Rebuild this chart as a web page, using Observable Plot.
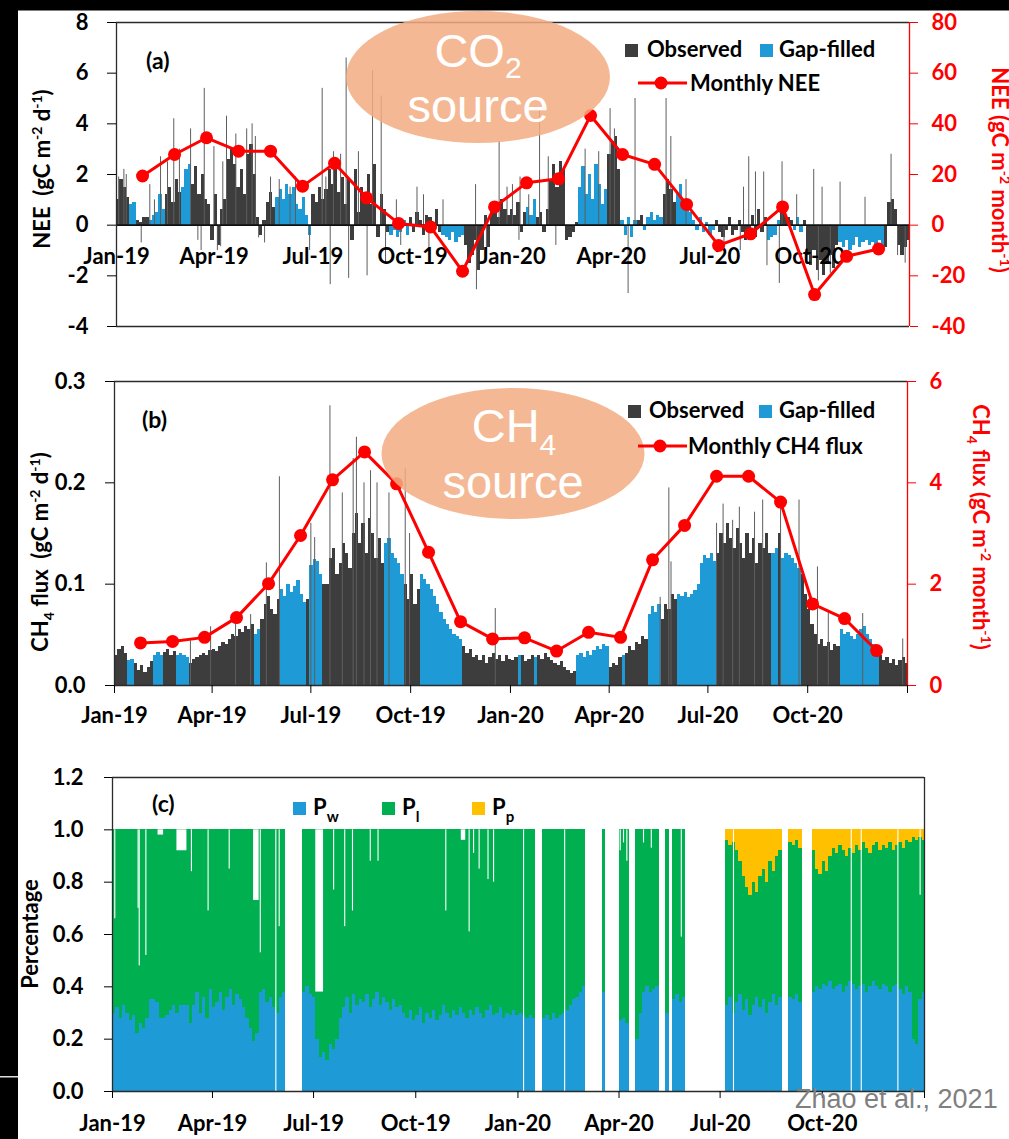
<!DOCTYPE html>
<html><head><meta charset="utf-8">
<script src="https://cdn.jsdelivr.net/npm/d3@7"></script>
<script src="https://cdn.jsdelivr.net/npm/@observablehq/plot@0.6"></script>
<style>
body{margin:0;background:#fff;}
#wrap{position:relative;width:1009px;height:1139px;overflow:hidden;background:#fff;}
</style></head><body><div id="wrap"></div>
<script>
// ---------------- DATA ----------------
const tickDates = ["2019-01-01","2019-04-01","2019-07-01","2019-10-01","2020-01-01","2020-04-01","2020-07-01","2020-10-01","2021-01-01"];
const tickLabels = ["Jan-19","Apr-19","Jul-19","Oct-19","Jan-20","Apr-20","Jul-20","Oct-20",""];
const monthLabels = ["Jan-19","Feb-19","Mar-19","Apr-19","May-19","Jun-19","Jul-19","Aug-19","Sep-19","Oct-19","Nov-19","Dec-19",
  "Jan-20","Feb-20","Mar-20","Apr-20","May-20","Jun-20","Jul-20","Aug-20","Sep-20","Oct-20","Nov-20","Dec-20"];

// daily NEE (gC m-2 d-1), 3-day bins from 1 Jan 2019
const neeBins = [1.0,1.8,1.5,1.1, 0.8,0.9, 0.2,0.1,0.3, 0.3,0.2,0.4,0.5,1.2, 0.6,
  1.2,1.5,0.9,1.8,1.3, 1.5,2.2,2.4, 1.6,2.3,1.2,2.0,1.0, 0.8,-0.6,1.2,-0.8,0.6,1.0,
  2.6,3.0,2.4, 1.5,2.2,1.2,2.8,3.2,2.0, 0.3,-0.4,0.2, 0.9,1.3,0.7,1.1,
  1.4,1.0,1.6,1.2,1.5,0.8, 0.6,1.1,0.4,-0.4, 1.2,0.9,1.5,1.0,1.4, 2.2,1.6,2.5,1.3,1.9,
  0.8,1.8,-0.6,2.2,0.5,1.5, 1.3,2.0,0.8,2.4,-0.5,1.2,0.6, -0.3,-0.4,-0.2,-0.5,-0.3,0.2,-0.4,
  0.3,-0.3,0.5,0.2,-0.4,0.4,0.3,-0.2,0.6,-0.3, -0.4,-0.5,-0.6,-0.3,-0.7,-0.5,-0.4,
  -0.8,-1.5,-1.2,-0.6,-1.8,-1.0,0.4,-0.9, 0.5,0.8,0.3,1.0,0.6,0.4,
  0.6,0.4,0.9,-0.3,0.5,0.7,0.4,1.0,0.3, 0.5,-0.3,0.6, 1.8,2.4,1.5,2.5,2.2, -0.6,-0.5,-0.3,0.1,
  1.5,2.3,1.2,2.0,1.0,2.4,1.6,0.8,1.4, 2.8,3.3,3.5,2.2, 0.2,-0.4,0.3,-0.5,0.2,
  0.2,0.4,-0.2,0.3,0.5,0.2,0.4,0.3, 1.2,1.8,1.4,0.9, 1.2,1.6,0.9,0.6,0.5,
  0.2,-0.2,0.3,-0.3,0.1,-0.4,-0.2,0.2,-0.3,-0.5,-0.2,0.3,-0.4,-0.2,0.2,-0.3,-0.6,-0.2,
  0.4,-0.5,0.6,-0.3,0.3,-0.6,-0.5,-0.4,0.2, 0.5,0.6,0.3, 0.2,-0.2,0.3,-0.3,0.2,
  -1.2,-1.6,-1.0,-1.8,-1.4,-2.0,-1.5,-1.2,-1.7,-0.8, -0.7,-0.9,-0.6,-1.0,-0.8,-0.5,-0.9,-0.7,-0.6,-0.8,
  -0.7,-0.8,-0.6,-1.0,-0.9, 0.9,1.0,0.6,-0.8,-1.2,-0.9,-0.6];
// gap-filled periods (day ranges)
const neeGapFilled = [[13,19],[30,45],[59,69],[148,180],[252,271],[300,321],[378,387],[426,453],[465,480],[486,504],[516,552],[601,611],[623,633],[666,707]];
// single-day spikes [day, value]
const neeSpikes = [[2,1.9],[6.8,2.2],[9,2.0],[22.8,-0.7],[30.7,1.6],[35,1.0],[40.6,2.7],[47,2.5],[52.8,4.2],[58,3.0],[68.3,3.8],[75,-0.6],[78,-1.0],[80.9,5.4],[89.8,3.1],[93,-1.0],[96,-0.85],
  [98,2.5],[101.4,4.3],[110,3.6],[120,3.8],[125,4.0],[128,3.5],[131,-0.5],[136.5,-0.7],[142,1.9],[150,1.8],[160,1.5],[165,1.9],[178,-1.0],[189.6,5.4],[193,1.9],[197,-2.35],[200,2.9],[206.6,2.8],
  [211.7,6.6],[214,-2.1],[223,2.9],[231,-2.0],[236,6.1],[244,5.1],[248,-1.5],[258,1.0],[262,-0.8],[277,1.5],[283,1.2],[288,-0.9],[301,1.0],[331,1.6],[331.8,-2.55],
  [341,-1.2],[352.7,3.3],[360,1.5],[365,1.6],[371,-0.6],[372,1.9],[380,1.2],[390,4.6],[398,2.7],[405,-0.8],[432,3.0],[444.5,2.9],[455,4.6],[459,3.8],[471.6,-2.7],
  [478,5.0],[506.6,5.0],[511,3.5],[525,1.8],[560,-0.9],[575,-1.0],[578,1.5],[582.8,2.7],[589,2.1],[596.6,2.1],[599.6,-1.6],[611,-2.3],
  [613.5,2.5],[627,1.2],[642.7,2.2],[647,-2.2],[650.4,1.5],[658,-1.9],[667,1.7],[690,1.1],[714,2.8],[720,-1.2],[727,-1.5]];
// monthly NEE (gC m-2 month-1)
const neeMonthly = [19.4,27.9,34.5,29.2,29.2,15.4,24.4,10.8,0.7,-0.7,-18.2,7.2,16.7,18.3,43.3,27.9,24.0,8.2,-8.0,-3.4,7.2,-27.4,-12.3,-9.4];

// daily CH4 flux (gC m-2 d-1), 3-day bins
const ch4Bins = [0.030,0.036,0.038,0.032, 0.025,0.026, 0.022,0.015,0.020,0.013,0.018,0.024, 0.030,0.033,0.030,
  0.033,0.036,0.030,0.034, 0.030,0.032,0.030,0.028,
  0.022,0.026,0.028,0.030,0.032,0.030,0.035,0.036,0.034,0.038,0.042,0.040,0.045,0.050,0.048,0.055,0.052,0.058,0.055,0.060,
  0.050,0.055, 0.065,0.080,0.088,0.075,0.070,0.085, 0.095,0.088,0.100,0.092,0.098,0.104,0.090,0.082, 0.085,
  0.118,0.124,0.122,0.110,0.100, 0.100,0.125,0.135,0.110,0.120,0.140,0.130,0.115,
  0.150,0.170,0.140,0.160,0.130,0.165,0.150,0.125,0.145,0.120, 0.140,0.145,0.130,0.125,0.120,0.110,
  0.100,0.085,0.110,0.080,0.095, 0.110,0.105,0.100,0.095,0.088,0.080,0.072, 0.065,0.060,0.055,0.050,0.048,0.045,
  0.038,0.032,0.036,0.028,0.030,0.025,0.030,0.022,0.028,0.032,0.026,0.030,0.024,0.030,0.026,
  0.025,0.028,0.030, 0.030,0.024,0.026,0.030,0.028,
  0.030,0.026,0.032,0.028,0.025,0.022,0.020,0.024,0.018,0.015,0.012,0.014,
  0.030,0.032,0.028,0.034,0.030,0.035,0.038,0.036,0.040,0.038, 0.018,0.022,0.020,0.028,0.030,
  0.032,0.038,0.035,0.042,0.040,0.048,0.045, 0.070,0.078,0.072,0.080, 0.065,0.080,0.075,0.090,0.085,
  0.090,0.088,0.092,0.087,0.090,0.094,0.100, 0.120,0.128,0.125,0.130,0.122,
  0.130,0.150,0.140,0.160,0.145,0.135,0.155,0.140,0.125,0.150,0.130,0.145,0.120,0.140,0.135,0.150,0.130,
  0.130,0.135, 0.150, 0.125,0.130,0.128,0.125,0.120,0.115,
  0.110,0.090,0.075,0.060,0.050,0.040,0.045,0.038,0.042,0.035,0.040,0.038,
  0.055,0.050,0.052,0.048,0.045,0.050,0.055,0.058,0.050,0.045,0.040,0.038,
  0.030,0.025,0.028,0.022,0.026,0.020,0.025,0.028,0.022];
const ch4GapFilled = [[12,18],[36,45],[57,69],[129,135],[153,177],[181,193],[249,267],[282,321],[372,376],[387,391],[426,456],[468,471],[492,504],[519,555],[606,612],[615,633],[669,705]];
const ch4Spikes = [[70,0.044],[88.6,0.058],[111.6,0.064],[125.5,0.07],[140,0.121],[152,0.206],[181,0.16],[184.5,0.146],[198.6,0.276],
  [210,0.19],[220,0.224],[223,0.245],[230,0.2],[236,0.212],[242,0.2],[253,0.19],[268,0.214],[272,0.15],[351,0.076],
  [503,0.087],[511,0.195],[513,0.122],[555,0.16],[561,0.179],[569.8,0.163],[576,0.176],[590,0.171],[597.5,0.183],
  [614,0.183],[631,0.183],[648,0.117],[658,0.074],[689.7,0.071],[726.6,0.046]];
// monthly CH4 flux (gC m-2 month-1)
const ch4Monthly = [0.84,0.87,0.95,1.34,2.01,2.96,4.06,4.61,3.98,2.63,1.26,0.92,0.94,0.68,1.05,0.95,2.48,3.16,4.13,4.13,3.62,1.61,1.32,0.69];

// panel c: P_w fraction per 3-day bin (null = no data)
const pwBins = [0.30,0.32,0.28,0.33,0.30,0.27,0.29,0.22,0.26,0.24,0.28,
  0.35,0.35,0.34,0.28,0.28,0.29,0.31,0.33,0.30, 0.33,0.33,0.33,
  0.26,0.33,0.38,0.30,0.36,0.28,0.39,0.32, 0.34,0.38,0.31,0.36,0.39,0.33,0.37,0.35,
  0.32,0.28,0.24,0.19,0.22, 0.38,0.39,0.34,0.36, 0.32,0.30,0.36,0.38,
  null,null,null,null,null, 0.38, 0.40,0.37,0.36,0.20, 0.13,0.15,0.12,0.18,0.16,
  0.20,0.28,0.32,0.36,0.30,0.37,0.33,0.35, 0.34,0.37,0.32,0.35,0.38,0.33,0.36,0.34,0.31,0.35,0.32,0.33,
  0.30,0.28,0.31,0.27,0.29,0.32,0.26,0.30,0.28,0.31,0.27,0.29,0.33,0.30,0.28,0.31,0.29,0.32,0.30,0.28,
  0.31,0.29,0.32,0.30,0.28,0.31,0.33,0.29,0.30,0.32,0.28,0.30,0.29,0.31,0.29,0.30,0.29,
  0.28,0.29,0.28, null,null, 0.28,0.29,0.27,0.30,0.28,0.29,0.30, 0.31,0.33,0.35,0.36,0.38,0.40,
  null,null,null,null,null, 0.38, null,null,null,null, 0.27,0.28,0.26, null,null,
  0.20,0.30,0.38,0.40,0.38,0.39,0.40, null,null, 0.30, null, 0.35,0.37,0.34,0.36,
  null,null,null,null,null,null,null,null,null,null,null,null,
  0.33,0.36,0.30,0.34,0.37,0.31,0.35,0.29,0.33,0.36,0.32,0.35,0.30,0.34,0.37,0.33,0.36,
  null,null, 0.36,0.35,0.37,0.34, null,null,null,
  0.38,0.40,0.39,0.41,0.40,0.42,0.39,0.40,0.41,0.38,0.40,0.42,0.41,0.39,0.40,0.41,0.38,0.40,0.42,0.40,
  0.39,0.41,0.40,0.38,0.40,0.41,0.39,0.37,0.40,0.38,0.20,0.18,0.35,0.38];
// panel c: P_p fraction per 3-day bin, starting at bin 184 (July 2020)
const ppFirstBin = 184;
const ppBins = [0.04,0.06,0.05,0.08,0.12,0.18,0.22,0.25,0.20,0.24,0.18,0.15,0.20,0.12,0.16,0.10,0.08,
  null,null, 0.05,0.06,0.04,0.07, null,null,null,
  0.08,0.15,0.17,0.12,0.16,0.10,0.07,0.09,0.06,0.08,0.10,0.07,0.09,0.06,0.08,0.05,0.07,0.09,0.06,0.05,
  0.08,0.06,0.07,0.05,0.08,0.06,0.05,0.07,0.04,0.05,0.03,0.04,0.03,0.04];
// days with no data at all
const missingDays = [147,370,407,559,665,674,707];
// days whose fractions do not reach 1.0: [first day, last day, top of data]
const partialDays = [[2,2,0.66],[23,23,0.70],[24,24,0.48],[30,30,0.52],[41,45,0.98],[58,66,0.92],[71,71,0.84],[86,86,0.69],
  [105,105,0.85],[127,131,0.73],[133,133,0.53],[150,150,0.63],[183,189,0.38],[199,199,0.77],[209,209,0.63],[216,216,0.69],
  [232,232,0.88],[239,239,0.88],[300,300,0.69],[314,317,0.96],[321,321,0.61],[325,325,0.91],[330,330,0.85],[338,338,0.81],
  [343,343,0.80],[457,457,0.92],[460,460,0.95],[463,463,0.88],[478,478,0.95],[485,485,0.93],[512,512,0.59],[727,727,0.75]];

// ---------------- HELPERS ----------------
const W = 1009;
const FONT = "Lato, 'Open Sans', sans-serif";
const OBS = "#3d3d3d", GAP = "#1e9ad6", RED = "#ff0000", FRAME = "#2b2b2b";
const BLUE = "#1e9ad6", GREEN = "#00b050", YELLOW = "#ffc000";
const T0 = Date.UTC(2019,0,1);
const day = d => new Date(T0 + d*864e5);
const X0 = new Date(tickDates[0]), X1 = new Date(tickDates[tickDates.length-1]);
const inR = (d, R) => R.some(([a,b]) => d >= a && d < b);
const binsOf = (vals, ranges) => vals.map((v,k) => ({a: day(k*3), b: day(Math.min(k*3+3, 731)), v, gf: inR(k*3+1.5, ranges)}));
// secondary (monthly) category axis: 24 evenly spaced categories
const monthX = (d,i) => day(24 + i*29.5);
const labelOf = new Map(tickDates.map((s,i) => [+new Date(s), tickLabels[i]]));
const style = {fontFamily: FONT, fontSize: "22px", fontWeight: "700", color: "#000", background: "transparent", overflow: "visible"};
const wrap = document.getElementById("wrap");
function place(svg, top){ svg.style.position = "absolute"; svg.style.left = "0px"; svg.style.top = top + "px"; wrap.appendChild(svg); }

// ---------------- PANEL A ----------------
const neeData = binsOf(neeBins, neeGapFilled);
const nTicks = [-4,-2,0,2,4,6,8];
place(Plot.plot({
  width: W, height: 340, marginLeft: 116, marginRight: 100, marginTop: 22, marginBottom: 14, style,
  x: {type: "utc", domain: [X0, X1], axis: null},
  y: {domain: [-4, 8]},
  marks: [
    Plot.rect(neeData, {x1: "a", x2: "b", y1: 0, y2: "v", fill: d => d.gf ? GAP : OBS, shapeRendering: "crispEdges"}),
    Plot.ruleX(neeSpikes, {x: d => day(d[0]), y1: 0, y2: d => d[1], stroke: "#5e5e5e", strokeWidth: 1}),
    Plot.ruleY([0], {stroke: "#111", strokeWidth: 1.6}),
    Plot.ruleY([8, -4], {stroke: FRAME, strokeWidth: 1.3}),
    Plot.ruleX([X0], {stroke: FRAME, strokeWidth: 1.3}),
    Plot.ruleX([X1], {stroke: RED, strokeWidth: 1.3}),
    Plot.axisY({ticks: nTicks, tickSize: 9, tickPadding: 19, label: null, color: "#000", tickFormat: d => String(d)}),
    Plot.axisY({anchor: "right", ticks: nTicks, tickSize: 8, tickPadding: 14, label: null, color: RED, tickFormat: d => String(d*10)}),
    Plot.text(tickDates.slice(0, 8), {x: d => new Date(d), y: 0, text: d => labelOf.get(+new Date(d)), lineAnchor: "top", dy: 23, fill: "#000"}),
    Plot.line(neeMonthly, {x: monthX, y: d => d/10, stroke: RED, strokeWidth: 3}),
    Plot.dot(neeMonthly, {x: monthX, y: d => d/10, r: 6.5, fill: RED, stroke: "none"})
  ]
}), 0);

// ---------------- PANEL B ----------------
const ch4Data = binsOf(ch4Bins, ch4GapFilled);
const cTicks = [0, 0.1, 0.2, 0.3];
place(Plot.plot({
  width: W, height: 380, marginLeft: 114, marginRight: 102, marginTop: 21, marginBottom: 55, style,
  x: {type: "utc", domain: [X0, X1]},
  y: {domain: [0, 0.3]},
  marks: [
    Plot.rect(ch4Data, {x1: "a", x2: "b", y1: 0, y2: "v", fill: d => d.gf ? GAP : OBS, shapeRendering: "crispEdges"}),
    Plot.ruleX(ch4Spikes, {x: d => day(d[0]), y1: 0, y2: d => d[1], stroke: "#5e5e5e", strokeWidth: 1}),
    Plot.ruleY([0, 0.3], {stroke: FRAME, strokeWidth: 1.3}),
    Plot.ruleX([X0], {stroke: FRAME, strokeWidth: 1.3}),
    Plot.ruleX([X1], {stroke: RED, strokeWidth: 1.3}),
    Plot.axisX({ticks: tickDates.map(s => new Date(s)), tickFormat: d => labelOf.get(+d) ?? "", tickSize: 8, tickPadding: 14, label: null, color: "#000"}),
    Plot.axisY({ticks: cTicks, tickSize: 9, tickPadding: 20, label: null, color: "#000", tickFormat: d3.format(".1f")}),
    Plot.axisY({anchor: "right", ticks: cTicks, tickSize: 8, tickPadding: 14, label: null, color: RED, tickFormat: d => String(Math.round(d*20))}),
    Plot.line(ch4Monthly, {x: monthX, y: d => d/20, stroke: RED, strokeWidth: 3}),
    Plot.dot(ch4Monthly, {x: monthX, y: d => d/20, r: 6.5, fill: RED, stroke: "none"})
  ]
}), 360);

// ---------------- PANEL C ----------------
const pData = [];
pwBins.forEach((pw, k) => {
  if (pw == null) return;
  const pp = k >= ppFirstBin ? (ppBins[k - ppFirstBin] ?? 0) : 0;
  pData.push({a: day(k*3), b: day(Math.min(k*3+3, 731)), pw, pp});
});
const pTicks = [0, 0.2, 0.4, 0.6, 0.8, 1.0, 1.2];
place(Plot.plot({
  width: W, height: 379, marginLeft: 112, marginRight: 85, marginTop: 17, marginBottom: 48, style,
  x: {type: "utc", domain: [X0, X1]},
  y: {domain: [0, 1.2]},
  marks: [
    Plot.rect(pData, {x1: "a", x2: "b", y1: 0, y2: "pw", fill: BLUE, shapeRendering: "crispEdges"}),
    Plot.rect(pData, {x1: "a", x2: "b", y1: "pw", y2: d => 1 - d.pp, fill: GREEN, shapeRendering: "crispEdges"}),
    Plot.rect(pData.filter(d => d.pp > 0), {x1: "a", x2: "b", y1: d => 1 - d.pp, y2: 1, fill: YELLOW, shapeRendering: "crispEdges"}),
    Plot.rect(missingDays, {x1: d => day(d), x2: d => day(d + 1), y1: 0, y2: 1, fill: "#fff"}),
    Plot.rect(partialDays, {x1: d => day(d[0]), x2: d => day(d[1] + 1), y1: d => d[2], y2: 1, fill: "#fff"}),
    Plot.ruleY([0, 1.2], {stroke: FRAME, strokeWidth: 1.3}),
    Plot.ruleX([X0, X1], {stroke: FRAME, strokeWidth: 1.3}),
    Plot.axisX({ticks: tickDates.map(s => new Date(s)), tickFormat: d => labelOf.get(+d) ?? "", tickSize: 7, tickPadding: 17, label: null, color: "#000"}),
    Plot.axisY({ticks: pTicks, tickSize: 8, tickPadding: 21, label: null, color: "#000", tickFormat: d3.format(".1f")})
  ]
}), 760);

// ---------------- OVERLAY (titles, legends, annotations) ----------------
const ov = d3.select(wrap).append("svg").attr("width", W).attr("height", 1139)
  .style("position", "absolute").style("left", "0px").style("top", "0px");

function rich(x, y, parts, {size = 22, fill = "#000", anchor = "start", rotate = 0, family = FONT, weight = 700, subSize, shift} = {}) {
  const t = ov.append("text").attr("transform", `translate(${x},${y}) rotate(${rotate})`)
    .attr("text-anchor", anchor).attr("fill", fill)
    .style("font-size", size + "px").style("font-family", family).style("font-weight", weight).style("white-space", "pre");
  const ss = subSize || Math.round(size * 0.64);
  const sh = shift || Math.round(size * 0.38);
  let off = 0;
  for (const [s, kind] of parts) {
    const want = kind === "sup" ? -sh : kind === "sub" ? sh * 0.7 : 0;
    const ts = t.append("tspan").text(s).attr("dy", want - off);
    off = want;
    if (kind) ts.style("font-size", ss + "px");
  }
  return t;
}

// ellipses
const ELL = "#f2ad81";
ov.append("ellipse").attr("cx", 478).attr("cy", 77).attr("rx", 132).attr("ry", 66).attr("fill", ELL).attr("fill-opacity", 0.85);
ov.append("ellipse").attr("cx", 513).attr("cy", 453.5).attr("rx", 131.5).attr("ry", 65.5).attr("fill", ELL).attr("fill-opacity", 0.85);
const SANS = "'Liberation Sans', Arial, sans-serif";
rich(478, 67, [["CO"], ["2", "sub"]], {size: 47, fill: "#fff", anchor: "middle", family: SANS, weight: 400, subSize: 30, shift: 16});
rich(478, 122, [["source"]], {size: 47, fill: "#fff", anchor: "middle", family: SANS, weight: 400});
rich(514, 442, [["CH"], ["4", "sub"]], {size: 47, fill: "#fff", anchor: "middle", family: SANS, weight: 400, subSize: 30, shift: 18});
rich(513, 498, [["source"]], {size: 47, fill: "#fff", anchor: "middle", family: SANS, weight: 400});

// panel labels
rich(146, 69, [["(a)"]], {size: 23});
rich(142, 428, [["(b)"]], {size: 23});
rich(152, 812, [["(c)"]], {size: 23});

// legends a & b
function legendAB(y0, sqObs, sqGap, txtObs, txtGap, lineX1, lineX2, dotX, lineY, txtX, label) {
  ov.append("rect").attr("x", sqObs).attr("y", y0 - 13).attr("width", 13).attr("height", 13).attr("fill", OBS);
  rich(txtObs, y0, [["Observed"]]);
  ov.append("rect").attr("x", sqGap).attr("y", y0 - 13).attr("width", 13).attr("height", 13).attr("fill", GAP);
  rich(txtGap, y0, [["Gap-filled"]]);
  ov.append("line").attr("x1", lineX1).attr("x2", lineX2).attr("y1", lineY).attr("y2", lineY).attr("stroke", RED).attr("stroke-width", 3);
  ov.append("circle").attr("cx", dotX).attr("cy", lineY).attr("r", 6.5).attr("fill", RED);
  rich(txtX, lineY + 8, [[label]]);
}
legendAB(57, 625, 760, 647, 779, 638, 687, 661, 83, 690, "Monthly NEE");
legendAB(418, 628, 759, 649, 779, 638, 687, 660, 446, 688, "Monthly CH4 flux");

// legend c
[[293, BLUE, "w"], [382, GREEN, "l"], [472, YELLOW, "p"]].forEach(([x, c, s]) => {
  ov.append("rect").attr("x", x).attr("y", 802).attr("width", 13).attr("height", 13).attr("fill", c);
  rich(x + 20, 815, [["P"], [s, "sub"]], {subSize: 15, shift: 10});
});

// axis titles
rich(50, 169, [["NEE  (gC m"], ["-2", "sup"], [" d"], ["-1", "sup"], [")"]], {rotate: -90, anchor: "middle", subSize: 14, shift: 8});
rich(992, 170, [["NEE (gC m"], ["-2", "sup"], [" month"], ["-1", "sup"], [")"]], {rotate: 90, anchor: "middle", fill: RED, subSize: 14, shift: 8});
rich(48, 552, [["CH"], ["4", "sub"], [" flux  (gC m"], ["-2", "sup"], [" d"], ["-1", "sup"], [")"]], {rotate: -90, anchor: "middle", subSize: 14, shift: 8});
rich(973, 527, [["CH"], ["4", "sub"], [" flux (gC m"], ["-2", "sup"], [" month"], ["-1", "sup"], [")"]], {rotate: 90, anchor: "middle", fill: RED, subSize: 14, shift: 8});
rich(38, 934, [["Percentage"]], {rotate: -90, anchor: "middle"});

// caption
rich(795, 1108, [["Zhao et al., 2021"]], {size: 27, fill: "#7f7f7f", family: SANS, weight: 400});

// slide borders
ov.append("rect").attr("x", 0).attr("y", 0).attr("width", W).attr("height", 10.5).attr("fill", "#000");
ov.append("rect").attr("x", 0).attr("y", 0).attr("width", 18).attr("height", 1139).attr("fill", "#000");
ov.append("rect").attr("x", 0).attr("y", 1076).attr("width", 18).attr("height", 1.5).attr("fill", "#ddd");
</script></body></html>
